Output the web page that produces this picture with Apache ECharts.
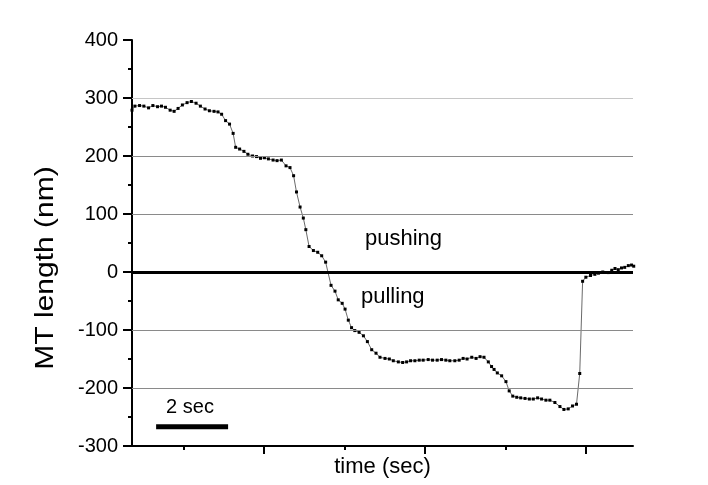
<!DOCTYPE html>
<html>
<head>
<meta charset="utf-8">
<script src="https://cdn.jsdelivr.net/npm/echarts@6/dist/echarts.min.js"></script>
<style>
  html, body { margin: 0; padding: 0; background: #ffffff; }
  #chart { width: 708px; height: 485px; }
</style>
</head>
<body>
<div id="chart"></div>
<script>
// Microtubule length trace: time in seconds, length in nm
const timeSec = [
  0.00, 0.08, 0.21, 0.33, 0.46, 0.58, 0.71, 0.82, 0.93, 1.06,
  1.17, 1.28, 1.40, 1.53, 1.65, 1.78, 1.90, 2.03, 2.15, 2.28,
  2.39, 2.49, 2.60, 2.71, 2.81, 2.88, 2.99, 3.11, 3.22, 3.35,
  3.46, 3.57, 3.68, 3.79, 3.92, 4.03, 4.15, 4.28, 4.39, 4.49,
  4.57, 4.67, 4.76, 4.83, 4.92, 5.04, 5.16, 5.27, 5.38, 5.53,
  5.64, 5.73, 5.84, 5.92, 6.01, 6.10, 6.19, 6.31, 6.43, 6.54,
  6.66, 6.78, 6.89, 7.03, 7.15, 7.26, 7.40, 7.52, 7.63, 7.74,
  7.86, 7.98, 8.09, 8.23, 8.35, 8.48, 8.60, 8.72, 8.83, 8.97,
  9.09, 9.20, 9.31, 9.44, 9.56, 9.67, 9.78, 9.90, 9.99, 10.06,
  10.15, 10.27, 10.39, 10.48, 10.58, 10.69, 10.80, 10.92, 11.04, 11.15,
  11.27, 11.38, 11.50, 11.61, 11.75, 11.89, 12.00, 12.12, 12.24, 12.35,
  12.44, 12.52, 12.61, 12.74, 12.86, 12.96, 13.08, 13.23, 13.33, 13.42,
  13.51, 13.60, 13.69, 13.79, 13.88, 13.94
];
const lengthNm = [
  279, 286, 287, 286, 283, 287, 285, 286, 284, 279,
  277, 282, 288, 292, 294, 291, 286, 281, 278, 277,
  276, 272, 261, 255, 239, 215, 212, 208, 203, 200,
  199, 196, 197, 195, 193, 192, 193, 183, 180, 166,
  138, 112, 93, 73, 44, 37, 34, 28, 17, -23,
  -33, -48, -54, -64, -83, -96, -101, -104, -110, -120,
  -134, -140, -147, -149, -150, -153, -155, -156, -155, -153,
  -153, -152, -152, -151, -152, -152, -151, -152, -153, -153,
  -152, -149, -150, -147, -149, -146, -147, -155, -163, -168,
  -174, -179, -189, -205, -214, -216, -217, -218, -219, -219,
  -217, -219, -221, -221, -225, -232, -237, -236, -231, -228,
  -175, -16, -9, -6, -4, -2, 0, -1, 3, 6,
  4, 7, 8, 11, 12, 10
];

// Axis extents and ticks
const timeRange = [0, 13.92];
const lengthRange = [-300, 400];
const lengthStep = 100;
const majorTimeTicks = [3.667, 8.139, 12.611];
const minorTimeTicks = [1.444, 5.917, 10.389];
const gridLevels = [300, 200, 100, -100, -200];
const baselineLevel = 0;

// 2-second scale bar
const scaleBarTime = [0.67, 2.67];
const scaleBarLevel = -267;
const scaleBarText = '2 sec';
const regionText = ['pushing', 'pulling'];

const FONT = '"Liberation Sans", Arial, Helvetica, sans-serif';

const chart = echarts.init(document.getElementById('chart'), null, { renderer: 'canvas' });

const trace = timeSec.map((t, i) => [t, lengthNm[i]]);
const scaleBar = scaleBarTime.map(t => [t, scaleBarLevel]);

const refLines = gridLevels.map(v => ({
  yAxis: v,
  lineStyle: { color: v === 300 ? '#c6c6c6' : '#8a8a8a', width: 1.2, type: 'solid' }
}));
refLines.push({ yAxis: baselineLevel, lineStyle: { color: '#000', width: 3, type: 'solid' } });

const option = {
  backgroundColor: '#ffffff',
  animation: false,
  grid: { left: 132, right: 75, top: 40, bottom: 39, containLabel: false, outerBoundsMode: 'none' },
  xAxis: [
    {
      type: 'value',
      min: timeRange[0],
      max: timeRange[1],
      name: 'time (sec)',
      nameLocation: 'middle',
      nameGap: 10,
      nameTextStyle: { fontFamily: FONT, fontSize: 22, color: '#000', verticalAlign: 'top' },
      axisLine: { show: true, onZero: false, lineStyle: { color: '#000', width: 2 } },
      axisTick: { show: true, customValues: majorTimeTicks, length: 8, lineStyle: { color: '#000', width: 2 } },
      axisLabel: { show: false },
      splitLine: { show: false }
    },
    {
      type: 'value',
      position: 'bottom',
      min: timeRange[0],
      max: timeRange[1],
      axisLine: { show: false, onZero: false },
      axisTick: { show: true, customValues: minorTimeTicks, length: 4, lineStyle: { color: '#000', width: 2 } },
      axisLabel: { show: false },
      splitLine: { show: false }
    }
  ],
  yAxis: {
    type: 'value',
    min: lengthRange[0],
    max: lengthRange[1],
    interval: lengthStep,
    axisLine: { show: true, onZero: false, lineStyle: { color: '#000', width: 2 } },
    axisTick: { show: true, length: 9, lineStyle: { color: '#000', width: 2 } },
    minorTick: { show: true, splitNumber: 2, length: 4, lineStyle: { color: '#000', width: 2 } },
    axisLabel: { fontFamily: FONT, fontSize: 20, color: '#000', margin: 14 },
    splitLine: { show: false }
  },
  graphic: [
    {
      // y-axis title, slightly stretched along its reading direction
      type: 'text', x: 46, y: 268, rotation: Math.PI / 2, scaleX: 1.2,
      style: { text: 'MT length (nm)', fontFamily: FONT, fontSize: 25, fill: '#000', align: 'center', verticalAlign: 'middle' }
    },
    {
      type: 'text', x: 365, y: 239,
      style: { text: regionText[0], fontFamily: FONT, fontSize: 22, fill: '#000', align: 'left', verticalAlign: 'middle' }
    },
    {
      type: 'text', x: 361, y: 297,
      style: { text: regionText[1], fontFamily: FONT, fontSize: 22, fill: '#000', align: 'left', verticalAlign: 'middle' }
    },
    {
      type: 'text', x: 190, y: 407,
      style: { text: scaleBarText, fontFamily: FONT, fontSize: 20, fill: '#000', align: 'center', verticalAlign: 'middle' }
    }
  ],
  series: [
    {
      name: 'reference lines',
      type: 'line',
      xAxisIndex: 0,
      data: scaleBar,
      symbol: 'none',
      z: 1,
      silent: true,
      lineStyle: { color: '#000', width: 5, cap: 'butt' },
      markLine: {
        silent: true,
        symbol: 'none',
        label: { show: false },
        animation: false,
        data: refLines
      }
    },
    {
      name: 'MT length',
      type: 'line',
      xAxisIndex: 0,
      data: trace,
      clip: false,
      z: 3,
      symbol: 'rect',
      symbolSize: 3,
      showAllSymbol: true,
      itemStyle: { color: '#000' },
      lineStyle: { color: '#444', width: 0.8 }
    }
  ]
};

chart.setOption(option);
</script>
</body>
</html>
